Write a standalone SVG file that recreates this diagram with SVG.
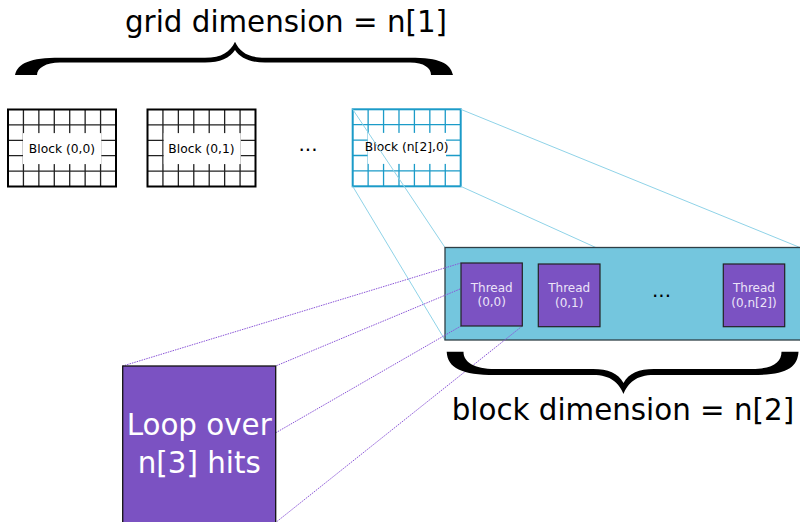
<svg xmlns="http://www.w3.org/2000/svg" width="800" height="522" viewBox="0 0 800 522">
<style>
.big{font-family:"DejaVu Sans","Liberation Sans",sans-serif;font-size:29.33px;fill:#000}
.blk{font-family:"DejaVu Sans","Liberation Sans",sans-serif;font-size:12.3px;fill:#000;text-anchor:middle}
.thr{font-family:"DejaVu Sans","Liberation Sans",sans-serif;font-size:12px;fill:#ece4f8;text-anchor:middle}
.dots{font-family:"DejaVu Sans","Liberation Sans",sans-serif;font-size:20px;fill:#000;text-anchor:middle}
.loop{font-family:"DejaVu Sans","Liberation Sans",sans-serif;font-size:29.33px;fill:#fff;text-anchor:middle}
.gl{fill:none;stroke-width:1.3}
.frame{fill:none;stroke-width:2}
.cyan{stroke:#8fd3e8;stroke-width:1;fill:none}
.purp{stroke:#8a55d8;stroke-width:1;stroke-dasharray:1.5 1;fill:none}
.thread{fill:#7b52c2;stroke:#222;stroke-width:1.2}
.brace{fill:#000}
</style>
<defs>
<g id="gridlines">
<path d="M15.43 0V77M30.86 0V77M46.29 0V77M61.71 0V77M77.14 0V77M92.57 0V77M0 15.4H108M0 30.8H108M0 46.2H108M0 61.6H108"/>
</g>
</defs>

<g id="grid-brace">
<path class="brace" d="M15,75 C18,63 30,57.7 60,57.7 L205,57.7 C222,57.7 230,52 235,41.7 C240,52 248,57.7 265,57.7 L410,57.7 C440,57.7 450,63 453,75 L431,75 C431,68 424,62.5 410,62.5 L265,62.5 C250,62.5 240,58 235,50 C230,58 220,62.5 205,62.5 L60,62.5 C46,62.5 37,68 37,75 Z"/>
<text class="big" x="125" y="32">grid dimension = n[1]</text>
</g>

<g id="block00" transform="translate(8,109.5)">
<use href="#gridlines" class="gl" stroke="#222"/>
<rect x="15" y="23.6" width="78.3" height="31" fill="#fff"/>
<rect class="frame" stroke="#000" x="0" y="0" width="108" height="77"/>
<text class="blk" x="54" y="43">Block (0,0)</text>
</g>

<g id="block01" transform="translate(147.5,109.5)">
<use href="#gridlines" class="gl" stroke="#222"/>
<rect x="16.2" y="23.6" width="77" height="31" fill="#fff"/>
<rect class="frame" stroke="#000" x="0" y="0" width="108" height="77"/>
<text class="blk" x="54" y="43">Block (0,1)</text>
</g>

<text class="dots" x="308" y="151">...</text>

<g id="blockN" transform="translate(352.7,109.3)">
<use href="#gridlines" class="gl" stroke="#1b9bc8"/>
<rect x="15" y="23.6" width="78.3" height="31" fill="#fff"/>
<rect class="frame" stroke="#1b9bc8" x="0" y="0" width="108" height="77"/>
<text class="blk" x="54" y="41.5">Block (n[2],0)</text>
</g>

<g id="connectors-block">
<line class="cyan" x1="352.7" y1="109.3" x2="445" y2="247.5"/>
<line class="cyan" x1="352.7" y1="186.3" x2="445" y2="340"/>
<line class="cyan" x1="460.7" y1="109.3" x2="800" y2="247.5"/>
<line class="cyan" x1="460.7" y1="186.3" x2="800" y2="340"/>
</g>

<g id="block-detail">
<rect x="445" y="247.5" width="360" height="92.5" fill="#74c6de" stroke="#2f3f45" stroke-width="1.3"/>
<text class="dots" x="661.5" y="297">...</text>
</g>

<g id="connectors-thread">
<line class="purp" x1="461" y1="263" x2="122.7" y2="366"/>
<line class="purp" x1="522.3" y1="263" x2="275.7" y2="366"/>
<line class="purp" x1="461" y1="326" x2="122.7" y2="521"/>
<line class="purp" x1="522.3" y1="326" x2="276.7" y2="521.7"/>
</g>

<g id="thread00">
<rect class="thread" x="461" y="263" width="61.3" height="63"/>
<text class="thr" x="491.7" y="291.5">Thread</text>
<text class="thr" x="491.7" y="306">(0,0)</text>
</g>
<g id="thread01">
<rect class="thread" x="538.3" y="264" width="61.7" height="62.7"/>
<text class="thr" x="569.2" y="292.3">Thread</text>
<text class="thr" x="569.2" y="306.8">(0,1)</text>
</g>
<g id="threadN">
<rect class="thread" x="723.3" y="264" width="61.4" height="62.7"/>
<text class="thr" x="754" y="292.3">Thread</text>
<text class="thr" x="754" y="306.8">(0,n[2])</text>
</g>

<g id="block-brace">
<path class="brace" d="M446.7,351.7 C447.5,368 462,375 495,375 L593,375 C611,375 619,383 623.5,394 C628,383 636,375 654,375 L752,375 C786,375 797.5,368 798.5,351.7 L781.5,351.7 C781.5,362 773,369 752,369 L654,369 C639,369 629,373 623.5,383 C618,373 608,369 593,369 L495,369 C474,369 463.5,362 463.5,351.7 Z"/>
<text class="big" x="451.7" y="420">block dimension = n[2]</text>
</g>

<g id="loop">
<rect x="122.7" y="366" width="153" height="160" fill="#7b52c2" stroke="#111" stroke-width="1.3"/>
<text class="loop" x="199.2" y="435">Loop over</text>
<text class="loop" x="199.2" y="472.5">n[3] hits</text>
</g>
</svg>
